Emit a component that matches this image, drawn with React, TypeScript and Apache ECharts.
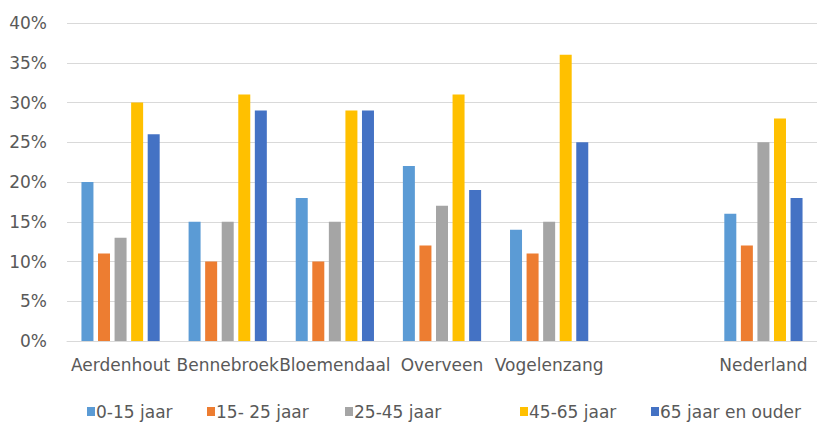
import React, { useEffect, useRef } from "react";
import * as echarts from "echarts";

// Age distribution per village, in percent of the population
const categories = ["Aerdenhout", "Bennebroek", "Bloemendaal", "Overveen", "Vogelenzang", "", "Nederland"];
const seriesNames = ["0-15 jaar", "15- 25 jaar", "25-45 jaar", "45-65 jaar", "65 jaar en ouder"];
const age0to15 = [20, 15, 18, 22, 14, null, 16];
const age15to25 = [11, 10, 10, 12, 11, null, 12];
const age25to45 = [13, 15, 15, 17, 15, null, 25];
const age45to65 = [30, 31, 29, 31, 36, null, 28];
const age65plus = [26, 29, 29, 19, 25, null, 18];
const yTicks = { min: 0, max: 40, interval: 5 };

const colors = ["#5B9BD5", "#ED7D31", "#A5A5A5", "#FFC000", "#4472C4"];
const legendLeft = [87, 207, 345, 520, 651];
const FONT = "'DejaVu Sans', sans-serif";
const TEXT = "#595959";

export default function App() {
  const ref = useRef<HTMLDivElement>(null);

  useEffect(() => {
    if (!ref.current) return;
    const chart = echarts.init(ref.current, undefined, { renderer: "svg" });
    const values = [age0to15, age15to25, age25to45, age45to65, age65plus];

    chart.setOption({
      animation: false,
      backgroundColor: "#ffffff",
      color: colors,
      textStyle: { fontFamily: FONT },
      grid: { left: 67, top: 23, width: 758, height: 318, containLabel: false },
      legend: seriesNames.map((name, i) => ({
        data: [name],
        left: legendLeft[i],
        top: 403,
        padding: 0,
        icon: "rect",
        itemWidth: 8,
        itemHeight: 9,
        itemGap: 0,
        selectedMode: false,
        textStyle: { color: TEXT, fontSize: 17, fontFamily: FONT, padding: [0, 0, 0, -4] },
      })),
      xAxis: {
        type: "category",
        data: categories,
        axisLine: { show: true, lineStyle: { color: "#d9d9d9", width: 1 } },
        axisTick: { show: false },
        axisLabel: { color: TEXT, fontSize: 17, fontFamily: FONT, margin: 15, interval: 0 },
      },
      yAxis: {
        type: "value",
        min: yTicks.min,
        max: yTicks.max,
        interval: yTicks.interval,
        axisLine: { show: false },
        axisTick: { show: false },
        splitLine: { lineStyle: { color: "#d9d9d9", width: 1 } },
        axisLabel: { color: TEXT, fontSize: 17, fontFamily: FONT, margin: 20, formatter: "{value}%" },
      },
      series: seriesNames.map((name, i) => ({
        name,
        type: "bar",
        data: values[i],
        barWidth: 12,
        barGap: "38%",
        itemStyle: { color: colors[i] },
      })),
    });

    return () => chart.dispose();
  }, []);

  return (
    <div
      ref={ref}
      style={{ position: "fixed", left: 0, top: 0, width: 817, height: 423, background: "#fff" }}
    />
  );
}
